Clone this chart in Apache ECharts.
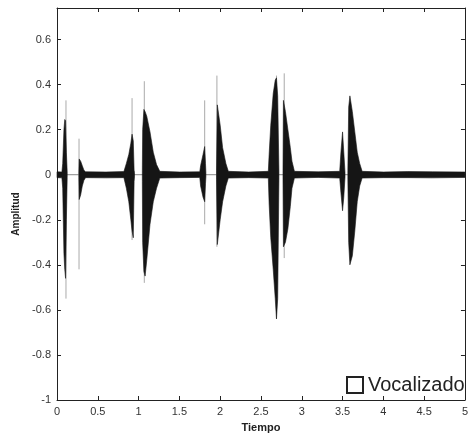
<!DOCTYPE html>
<html>
<head>
<meta charset="utf-8">
<script src="https://cdn.jsdelivr.net/npm/echarts@6/dist/echarts.min.js"></script>
<style>
  html, body { margin: 0; padding: 0; background: #fff; }
  #chart { width: 471px; height: 439px; }
</style>
</head>
<body>
<div id="chart"></div>
<script>
// envolvente de la señal (segundos, amplitud superior, amplitud inferior)
// null = tramo sin ruido (solo la línea de cero)
const tiempo = [
  0, 0.06, 0.07, 0.085, 0.095, 0.105, 0.115, 0.125, 0.2,
  0.268, 0.272, 0.29, 0.31, 0.33, 0.35, 0.6, 0.82, 0.85, 0.88, 0.905, 0.92, 0.935, 0.945, 0.95, 1.0,
  1.046, 1.05, 1.065, 1.08, 1.1, 1.14, 1.18, 1.22, 1.26, 1.5, 1.75, 1.76, 1.79, 1.81, 1.82, 1.825, 1.9,
  1.955, 1.965, 2.0, 2.03, 2.07, 2.1, 2.35, 2.59, 2.6, 2.62, 2.65, 2.675, 2.69, 2.705, 2.72, 2.745,
  2.77, 2.775, 2.8, 2.83, 2.86, 2.88, 2.91, 3.2, 3.465, 3.48, 3.5, 3.515, 3.53, 3.55,
  3.565, 3.575, 3.59, 3.62, 3.65, 3.68, 3.71, 3.74, 4.0, 4.3, 4.6, 5.0
]
const envSup = [
  0.013, 0.012, 0.05, 0.2, 0.245, 0.24, 0.1, 0.012, null,
  0.012, 0.07, 0.06, 0.04, 0.02, 0.013, 0.012, 0.014, 0.05, 0.09, 0.14, 0.18, 0.15, 0.02, 0.01, null,
  0.02, 0.2, 0.29, 0.28, 0.26, 0.19, 0.1, 0.045, 0.015, 0.012, 0.013, 0.04, 0.09, 0.125, 0.05, 0.01, null,
  0.02, 0.31, 0.22, 0.12, 0.05, 0.015, 0.012, 0.015, 0.09, 0.22, 0.36, 0.42, 0.43, 0.35, 0.02, null,
  0.02, 0.33, 0.28, 0.2, 0.12, 0.06, 0.015, 0.013, 0.015, 0.1, 0.19, 0.1, 0.01, null,
  0.02, 0.3, 0.35, 0.28, 0.19, 0.1, 0.05, 0.015, 0.012, 0.014, 0.013, 0.012
]
const envInf = [
  -0.013, -0.014, -0.06, -0.35, -0.42, -0.46, -0.2, -0.012, null,
  -0.012, -0.11, -0.09, -0.05, -0.025, -0.013, -0.014, -0.013, -0.06, -0.12, -0.2, -0.25, -0.28, -0.03, -0.01, null,
  -0.03, -0.3, -0.43, -0.45, -0.38, -0.22, -0.12, -0.06, -0.015, -0.013, -0.012, -0.05, -0.1, -0.12, -0.04, -0.01, null,
  -0.02, -0.31, -0.2, -0.12, -0.05, -0.015, -0.013, -0.015, -0.13, -0.28, -0.42, -0.55, -0.64, -0.55, -0.02, null,
  -0.02, -0.32, -0.3, -0.24, -0.14, -0.06, -0.015, -0.012, -0.015, -0.08, -0.16, -0.1, -0.01, null,
  -0.02, -0.3, -0.4, -0.36, -0.25, -0.12, -0.05, -0.015, -0.013, -0.013, -0.014, -0.012
]

// picos aislados (trazo gris fino)
const picoT   = [0.11, 0.27, 0.92, 1.07, 1.81, 1.96, 2.69, 2.785]
const picoSup = [0.33, 0.16, 0.34, 0.415, 0.33, 0.44, 0.44, 0.45]
const picoInf = [-0.55, -0.42, -0.29, -0.48, -0.22, -0.32, -0.64, -0.37]

const ejeX = { min: 0, max: 5, paso: 0.5 }
const ejeY = { min: -1, max: 0.74, paso: 0.2 }

const fuente = 'Liberation Sans, Arial, sans-serif'

// cortar la envolvente en tramos continuos
let bloques = []
let actual = null
for (let i = 0; i < tiempo.length; i++) {
  if (envSup[i] == null) { actual = null; continue }
  if (!actual) { actual = { t: [], sup: [], inf: [] }; bloques.push(actual) }
  actual.t.push(tiempo[i])
  actual.sup.push(envSup[i])
  actual.inf.push(envInf[i])
}

function etiquetaY(v) {
  let k = Math.round(v / ejeY.paso)
  if (Math.abs(v - k * ejeY.paso) > 1e-6) return ''
  return String(Math.round(v * 10) / 10)
}

let chart = echarts.init(document.getElementById('chart'), null, { renderer: 'canvas' })

let ejeComun = {
  type: 'value',
  axisLine: { show: true, onZero: false, lineStyle: { color: '#222', width: 1 } },
  axisTick: { show: true, inside: true, length: 4, lineStyle: { color: '#222' } },
  splitLine: { show: false }
}

let option = {
  backgroundColor: '#fff',
  animation: false,
  textStyle: { fontFamily: fuente },
  grid: { left: 57, right: 4, top: 8, bottom: 39 },
  legend: {
    left: 346, top: 375,
    padding: 0,
    itemWidth: 16, itemHeight: 16,
    data: [{
      name: 'Vocalizado', icon: 'rect',
      itemStyle: { color: '#fff', borderColor: '#222', borderWidth: 2 }
    }],
    textStyle: { fontSize: 20, color: '#222', fontFamily: fuente }
  },
  xAxis: [
    Object.assign({}, ejeComun, {
      position: 'bottom', min: ejeX.min, max: ejeX.max, interval: ejeX.paso,
      name: 'Tiempo', nameLocation: 'middle', nameGap: 22,
      nameTextStyle: { fontSize: 11, fontWeight: 'bold', color: '#222', fontFamily: fuente },
      axisLabel: { fontSize: 11, color: '#333', margin: 6, fontFamily: fuente,
        formatter: v => String(Math.round(v * 10) / 10) }
    }),
    Object.assign({}, ejeComun, {
      position: 'top', min: ejeX.min, max: ejeX.max, interval: ejeX.paso,
      axisLabel: { show: false }
    })
  ],
  yAxis: [
    Object.assign({}, ejeComun, {
      position: 'left', min: ejeY.min, max: ejeY.max, interval: ejeY.paso,
      name: 'Amplitud', nameLocation: 'middle', nameGap: 34, nameRotate: 90,
      nameTextStyle: { fontSize: 10, fontWeight: 'bold', color: '#222', fontFamily: fuente,
        padding: [0, 20, 0, 0] },
      axisLabel: { fontSize: 11, color: '#333', margin: 6, fontFamily: fuente,
        showMaxLabel: false, formatter: etiquetaY }
    }),
    Object.assign({}, ejeComun, {
      position: 'right', min: ejeY.min, max: ejeY.max, interval: ejeY.paso,
      axisLabel: { show: false }
    })
  ],
  series: [
    {
      // línea de cero
      type: 'line',
      z: 1,
      silent: true,
      symbol: 'none',
      data: [[ejeX.min, 0], [ejeX.max, 0]],
      lineStyle: { color: '#888', width: 1 }
    },
    {
      type: 'custom',
      z: 2,
      silent: true,
      data: picoT.map((t, i) => [t, picoSup[i], picoInf[i]]),
      encode: { x: 0, y: [1, 2] },
      renderItem: function (params, api) {
        let a = api.coord([api.value(0), api.value(1)])
        let b = api.coord([api.value(0), api.value(2)])
        return {
          type: 'line',
          shape: { x1: a[0], y1: a[1], x2: b[0], y2: b[1] },
          style: { stroke: '#aaa', lineWidth: 1 }
        }
      }
    },
    {
      name: 'Vocalizado',
      type: 'custom',
      z: 3,
      silent: true,
      data: bloques.map(b => [b.t[0], b.t[b.t.length - 1]]),
      encode: { x: [0, 1] },
      renderItem: function (params, api) {
        let b = bloques[params.dataIndex]
        let pts = []
        for (let i = 0; i < b.t.length; i++) pts.push(api.coord([b.t[i], b.sup[i]]))
        for (let i = b.t.length - 1; i >= 0; i--) pts.push(api.coord([b.t[i], b.inf[i]]))
        return {
          type: 'polygon',
          shape: { points: pts },
          style: { fill: '#151515', stroke: '#151515', lineWidth: 0.6 }
        }
      }
    }
  ]
}

chart.setOption(option)
</script>
</body>
</html>
